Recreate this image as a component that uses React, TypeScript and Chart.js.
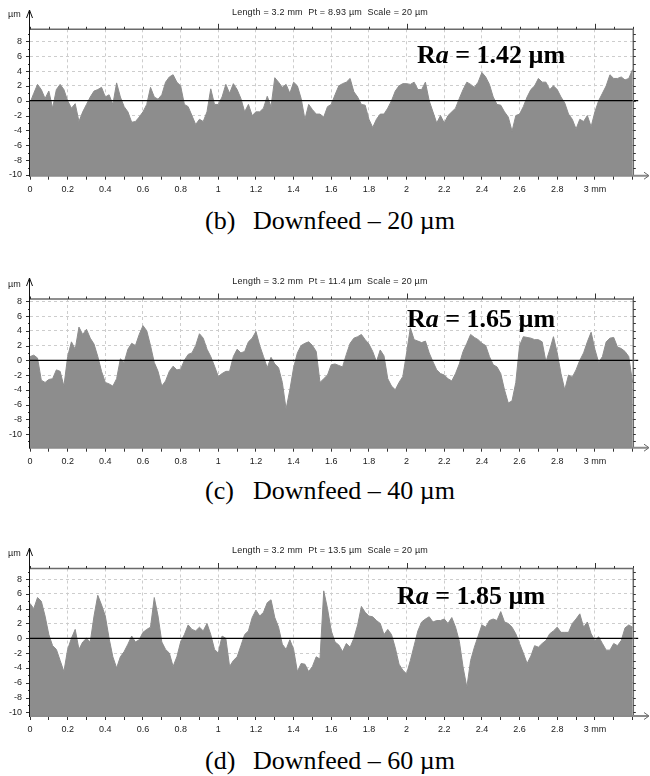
import React, { useEffect, useRef } from 'react';
import { Chart, registerables } from 'chart.js';

Chart.register(...registerables);

// ---------------- data ----------------
const STEP_MM = 0.02; // sampling step of the profiles (mm)

// (b) Downfeed – 20 µm : profile height (µm) every 0.02 mm from 0 to 3.2 mm
const PROFILE_B: number[] = [
  -0.3, 1.0, 2.2, 1.5, 0.3, 1.3, -1.0, 1.5, 2.2, 1.5,
  0.0, -1.0, -0.4, -2.8, -1.5, -0.5, 0.5, 1.3, 1.5, 1.8,
  0.5, 0.8, -0.5, 2.4, 0.5, -0.8, -1.5, -2.9, -2.8, -2.2,
  -1.5, -0.5, 1.8, 0.5, 0.2, 0.8, 2.5, 3.2, 3.5, 2.5,
  2.0, -0.5, -0.8, -2.0, -3.2, -2.5, -2.8, -1.5, 1.6, -0.5,
  -0.5, 0.5, 2.2, 1.0, 2.3, 1.5, 0.3, -1.5, -0.5, -2.0,
  -1.5, -1.5, -1.0, 0.6, -0.8, 3.1, 2.5, 1.8, 2.2, 1.0,
  2.5, 2.0, 0.3, -2.5, -0.5, -1.2, -1.8, -1.8, -2.2, -0.8,
  -0.5, 0.8, 2.0, 2.3, 2.5, 3.0, 1.2, 0.5, -0.5, -0.6,
  -2.5, -3.6, -2.5, -1.8, -1.8, -1.0, 0.0, 1.3, 2.0, 2.3,
  2.3, 2.2, 2.5, 1.5, 1.5, 2.5, 0.0, -1.5, -3.0, -2.0,
  -3.0, -2.0, -1.5, -1.0, 0.3, 1.5, 2.5, 2.2, 1.8, 2.5,
  3.8, 3.2, 2.2, 0.5, -0.5, -0.6, -1.5, -2.2, -4.1, -2.0,
  -1.8, -0.8, 0.5, 1.5, 2.0, 3.0, 2.5, 2.5, 1.5, 2.0,
  1.5, 0.5, -0.3, -1.8, -2.5, -3.8, -2.5, -2.8, -2.0, -3.5,
  -1.5, 0.0, 1.0, 2.0, 3.5, 3.0, 3.0, 3.2, 2.8, 3.0,
  4.2,
];

// (c) Downfeed – 40 µm
const PROFILE_C: number[] = [
  0.5, 0.7, 0.3, -2.7, -3.0, -2.6, -2.5, -1.3, -1.5, -3.5,
  0.5, 2.5, 1.5, 4.5, 3.5, 4.2, 3.0, 2.2, 0.5, -1.5,
  -3.0, -3.2, -3.5, -2.5, 0.2, -0.3, 1.5, 2.3, 2.0, 3.5,
  4.7, 4.0, 2.0, -0.3, -1.5, -3.5, -2.8, -1.5, -0.8, -1.3,
  -1.2, 0.0, 0.8, 1.0, 2.0, 3.6, 3.0, 1.5, 0.5, -0.8,
  -2.2, -1.8, -1.5, -1.5, 0.5, 1.5, 1.0, 1.2, 2.5, 3.0,
  3.9, 2.0, 0.5, -1.0, 0.4, -0.5, -1.0, -3.0, -6.6, -4.0,
  -1.0, 1.0, 2.0, 2.3, 2.5, 2.0, 1.2, -3.0, -2.5, -2.0,
  -0.6, -0.5, -0.7, -0.9, 0.8, 2.3, 3.0, 3.2, 3.5, 2.8,
  2.2, 1.2, -0.2, 1.4, 0.6, -2.5, -3.5, -4.0, -3.0, -2.2,
  1.0, 4.4, 2.8, 2.6, 2.4, 2.6, 1.0, -0.2, -1.3, -1.8,
  -2.0, -2.5, -2.8, -1.8, -0.5, 1.2, 2.3, 3.5, 3.1, 2.8,
  2.3, 2.0, 0.5, -0.6, -0.9, -1.8, -4.0, -5.8, -5.5, -3.0,
  2.0, 3.2, 3.1, 3.0, 2.8, 2.8, 2.5, -0.2, 1.4, 3.2,
  1.0, -1.8, -4.0, -2.0, -2.3, -1.3, 0.0, 1.0, 2.5, 3.8,
  1.5, -0.3, 0.5, 2.5, 3.0, 3.1, 1.8, 1.6, 1.2, 0.5,
  -3.0,
];

// (d) Downfeed – 60 µm
const PROFILE_D: number[] = [
  4.7, 4.0, 5.5, 5.0, 3.0, 0.5, -1.0, -1.5, -3.0, -4.5,
  -1.5, 0.0, 1.2, -1.5, -0.5, 0.0, -0.5, 3.0, 5.8, 4.5,
  3.0, 0.0, -2.5, -4.0, -2.5, -1.8, -0.8, 0.3, -0.5, -0.2,
  0.8, 1.2, 1.5, 5.5, 3.0, -0.5, -1.5, -2.0, -3.8, -2.5,
  -0.5, 0.5, 1.8, 1.2, 1.0, 1.5, 1.0, 2.0, 0.5, -1.5,
  -2.0, 0.3, 0.0, -3.8, -3.0, -2.5, -1.0, 0.5, 1.0, 2.8,
  3.8, 3.0, 3.5, 4.8, 5.2, 2.8, 1.5, -0.8, -1.5, -0.2,
  -1.5, -4.5, -3.4, -3.5, -4.5, -3.8, -2.5, -2.8, 6.4, 4.0,
  1.0, -0.5, -0.9, -1.8, -0.7, -1.2, 0.0, 1.8, 4.3, 3.5,
  3.0, 2.9, 2.4, 2.0, 0.5, 1.2, 0.5, -1.3, -3.5, -4.3,
  -4.8, -3.0, -1.0, 1.0, 2.2, 2.6, 2.9, 2.2, 2.4, 2.4,
  2.6, 2.0, 2.8, 1.5, -0.4, -3.9, -6.6, -3.0, -1.2, 0.3,
  1.8, 1.5, 2.4, 2.6, 2.4, 3.6, 2.2, 2.0, 1.5, 0.6,
  -0.7, -2.0, -3.4, -2.4, -1.0, -1.2, -0.7, -0.3, 0.6, 1.0,
  1.5, 0.8, 0.8, 0.8, 2.0, 2.6, 3.3, 1.5, 2.2, 0.6,
  -0.3, 0.2, -0.7, -1.6, -1.6, -0.7, -1.0, -0.3, 1.4, 1.8,
  1.5,
];

const X_TICK_VALUES = [
  0, 0.1, 0.2, 0.3, 0.4, 0.5, 0.6, 0.7, 0.8, 0.9, 1, 1.1, 1.2, 1.3, 1.4, 1.5,
  1.6, 1.7, 1.8, 1.9, 2, 2.1, 2.2, 2.3, 2.4, 2.5, 2.6, 2.7, 2.8, 2.9, 3, 3.1, 3.2,
];
const X_LABEL_VALUES = [0, 0.2, 0.4, 0.6, 0.8, 1, 1.2, 1.4, 1.6, 1.8, 2, 2.2, 2.4, 2.6, 2.8, 3];
const X_LABEL_TEXTS = ['0', '0.2', '0.4', '0.6', '0.8', '1', '1.2', '1.4', '1.6', '1.8', '2', '2.2', '2.4', '2.6', '2.8', '3 mm'];
const Y_TICK_VALUES = [-11, -10, -9, -8, -7, -6, -5, -4, -3, -2, -1, 0, 1, 2, 3, 4, 5, 6, 7, 8, 9];
const Y_LABEL_VALUES = [-10, -8, -6, -4, -2, 0, 2, 4, 6, 8];
const Y_LABEL_TEXTS = ['-10', '-8', '-6', '-4', '-2', '0', '2', '4', '6', '8'];

const PROFILES = [PROFILE_B, PROFILE_C, PROFILE_D];
const CAPTION_LETTERS = ['(b)', '(c)', '(d)'];
const CAPTION_TEXTS = ['Downfeed – 20 µm', 'Downfeed – 40 µm', 'Downfeed – 60 µm'];
const LENGTH_MM = ['3.2', '3.2', '3.2'];
const PT_VALUES = ['8.93', '11.4', '13.5'];
const SCALE_VALUES = ['20', '20', '20'];
const RA_VALUES = ['1.42', '1.65', '1.85'];
const Y_MIN = [-10.1, -11.85, -10.49];
const Y_MAX = [9.62, 8.31, 9.42];
const X_MAX = 3.204;
const ZERO_LINE_END = 3.23;

// ---------------- layout (page pixels) ----------------
const LAYOUT = [
  { canvasTop: 0, plotTop: 29.3, plotBottom: 175.7, arrowTip: 10, titleY: 12, unitY: 14, raX: 417, raBase: 64, capBase: 230 },
  { canvasTop: 268, plotTop: 299, plotBottom: 447.7, arrowTip: 278, titleY: 281, unitY: 284, raX: 407, raBase: 328, capBase: 500 },
  { canvasTop: 537, plotTop: 568.5, plotBottom: 716, arrowTip: 548, titleY: 550, unitY: 553, raX: 397, raBase: 605, capBase: 770 },
];
const CANVAS_W = 650;
const CANVAS_H = 200;
const PLOT_RIGHT = 633.3;
const PLOT_LEFT = 30;
const X_ARROW_END = 649;

const FILL = '#8d8d8d';
const GRID = '#cdcdcd';
const TICK_FONT = { family: '"Liberation Sans", Arial, sans-serif', size: 9 };

const near = (a: number, b: number) => Math.abs(a - b) < 1e-6;

function ProfilePanel({ idx }: { idx: number }) {
  const ref = useRef<HTMLCanvasElement | null>(null);
  const L = LAYOUT[idx];

  useEffect(() => {
    const canvas = ref.current;
    if (!canvas) return;
    const plotTop = L.plotTop - L.canvasTop;
    const plotBottom = L.plotBottom - L.canvasTop;
    const arrowTip = L.arrowTip - L.canvasTop;
    const yMin = Y_MIN[idx];
    const yMax = Y_MAX[idx];
    const yTicks = Y_TICK_VALUES.filter((v) => v >= yMin && v <= yMax);
    const profile = PROFILES[idx];

    const framePlugin = {
      id: 'profileFrame' + idx,
      afterDraw(chart: any) {
        const { ctx, chartArea } = chart;
        const { left, right, top, bottom } = chartArea;
        const xs = chart.scales.x;
        const ys = chart.scales.y;
        const seg = (x1: number, y1: number, x2: number, y2: number) => {
          ctx.beginPath();
          ctx.moveTo(x1, y1);
          ctx.lineTo(x2, y2);
          ctx.stroke();
        };
        ctx.save();
        // top and right frame
        ctx.strokeStyle = '#6a6a6a';
        ctx.lineWidth = 1.5;
        seg(left, top, right, top);
        seg(right, top, right, bottom);
        // top ticks
        ctx.strokeStyle = '#333';
        ctx.lineWidth = 1;
        X_TICK_VALUES.forEach((v) => {
          const px = Math.round(xs.getPixelForValue(v)) + 0.5;
          const len = Number.isInteger(v) && v > 0 ? 5.5 : 2.5;
          seg(px, top - len, px, top);
        });
        // left & right ticks
        yTicks.forEach((v) => {
          const py = Math.round(ys.getPixelForValue(v)) + 0.5;
          const len = v % 2 === 0 ? 4 : 2;
          seg(left - len, py, left, py);
          seg(right, py, right + 2.5, py);
        });
        // bottom axis with arrow
        ctx.strokeStyle = '#8a8a8a';
        ctx.lineWidth = 2;
        seg(left, bottom, X_ARROW_END - 1, bottom);
        ctx.strokeStyle = '#666';
        ctx.lineWidth = 1;
        ctx.beginPath();
        ctx.moveTo(X_ARROW_END - 5, bottom - 3.5);
        ctx.lineTo(X_ARROW_END, bottom);
        ctx.lineTo(X_ARROW_END - 5, bottom + 3.5);
        ctx.stroke();
        // left axis with arrow
        ctx.strokeStyle = '#111';
        ctx.lineWidth = 1;
        const ax = Math.round(left) - 0.5;
        seg(ax, bottom + 1, ax, arrowTip);
        ctx.beginPath();
        ctx.moveTo(ax - 3, arrowTip + 8);
        ctx.lineTo(ax, arrowTip);
        ctx.lineTo(ax + 3, arrowTip + 8);
        ctx.stroke();
        ctx.restore();
      },
    };

    const chart = new Chart(canvas, {
      type: 'line',
      data: {
        datasets: [
          {
            data: profile.map((y, i) => ({ x: i * STEP_MM, y })),
            fill: 'start',
            backgroundColor: FILL,
            borderColor: FILL,
            borderWidth: 1,
            pointRadius: 0,
            tension: 0,
            order: 2,
          },
          {
            data: [
              { x: 0, y: 0 },
              { x: ZERO_LINE_END, y: 0 },
            ],
            fill: false,
            borderColor: '#000',
            borderWidth: 1.2,
            pointRadius: 0,
            clip: false,
            order: 1,
          },
        ],
      } as any,
      options: {
        animation: false,
        responsive: false,
        events: [],
        layout: { padding: { top: plotTop, right: CANVAS_W - PLOT_RIGHT, bottom: 0, left: 0 } },
        plugins: { legend: { display: false }, tooltip: { enabled: false }, title: { display: false } },
        scales: {
          x: {
            type: 'linear',
            min: 0,
            max: X_MAX,
            afterBuildTicks: (s: any) => {
              s.ticks = X_TICK_VALUES.map((v) => ({ value: v }));
            },
            afterFit: (s: any) => {
              s.height = CANVAS_H - plotBottom;
            },
            ticks: {
              autoSkip: false,
              maxRotation: 0,
              padding: 4,
              color: '#222',
              font: TICK_FONT,
              callback: (v: any) => {
                const k = X_LABEL_VALUES.findIndex((lv) => near(lv, Number(v)));
                return k >= 0 ? X_LABEL_TEXTS[k] : '';
              },
            },
            grid: {
              drawTicks: true,
              tickLength: 4,
              tickColor: '#333',
              lineWidth: 1,
              color: (c: any) => {
                const v = c.tick ? c.tick.value : 0;
                return v > 0.01 && v < 3.1 && X_LABEL_VALUES.some((lv) => near(lv, v)) ? GRID : 'rgba(0,0,0,0)';
              },
            },
            border: { display: false, dash: [3, 3] },
          },
          y: {
            type: 'linear',
            min: yMin,
            max: yMax,
            afterBuildTicks: (s: any) => {
              s.ticks = yTicks.map((v) => ({ value: v }));
            },
            afterFit: (s: any) => {
              s.width = PLOT_LEFT;
            },
            ticks: {
              autoSkip: false,
              padding: 8,
              color: '#222',
              font: TICK_FONT,
              callback: (v: any) => {
                const k = Y_LABEL_VALUES.findIndex((lv) => near(lv, Number(v)));
                return k >= 0 ? Y_LABEL_TEXTS[k] : '';
              },
            },
            grid: {
              drawTicks: false,
              lineWidth: 1,
              color: (c: any) => {
                const v = c.tick ? c.tick.value : 0;
                return v % 2 === 0 && v !== 0 && v > -10 ? GRID : 'rgba(0,0,0,0)';
              },
            },
            border: { display: false, dash: [3, 3] },
          },
        },
      } as any,
      plugins: [framePlugin],
    });
    return () => chart.destroy();
  }, []);

  const serif = '"Liberation Serif", "Times New Roman", serif';
  const sans = '"Liberation Sans", Arial, sans-serif';
  return (
    <>
      <canvas
        ref={ref}
        width={CANVAS_W}
        height={CANVAS_H}
        style={{ position: 'absolute', left: 0, top: L.canvasTop, width: CANVAS_W, height: CANVAS_H }}
      />
      <div
        style={{
          position: 'absolute', left: 0, width: 660, top: L.titleY - 5, textAlign: 'center',
          font: `9px ${sans}`, lineHeight: '10px', whiteSpace: 'pre', letterSpacing: '0.2px', color: '#222',
        }}
      >
        {`Length = ${LENGTH_MM[idx]} mm  Pt = ${PT_VALUES[idx]} µm  Scale = ${SCALE_VALUES[idx]} µm`}
      </div>
      <div
        style={{
          position: 'absolute', left: 8, top: L.unitY - 5, font: `9px ${sans}`, lineHeight: '10px', color: '#222',
        }}
      >
        µm
      </div>
      <div
        style={{
          position: 'absolute', left: L.raX, top: L.raBase - 21.8, font: `bold 26px ${serif}`,
          lineHeight: '26px', whiteSpace: 'pre', color: '#000',
        }}
      >
        R<i>a</i>{` = ${RA_VALUES[idx]} µm`}
      </div>
      <div
        style={{
          position: 'absolute', left: 205, top: L.capBase - 21.8, font: `26px ${serif}`,
          lineHeight: '26px', whiteSpace: 'pre', color: '#000',
        }}
      >
        {CAPTION_LETTERS[idx]}
      </div>
      <div
        style={{
          position: 'absolute', left: 253, top: L.capBase - 21.8, font: `26px ${serif}`,
          lineHeight: '26px', whiteSpace: 'pre', color: '#000',
        }}
      >
        {CAPTION_TEXTS[idx]}
      </div>
    </>
  );
}

export default function App() {
  return (
    <div style={{ position: 'absolute', left: 0, top: 0, width: 650, height: 776, background: '#fff', overflow: 'hidden' }}>
      {PROFILES.map((_, i) => (
        <ProfilePanel key={i} idx={i} />
      ))}
    </div>
  );
}
